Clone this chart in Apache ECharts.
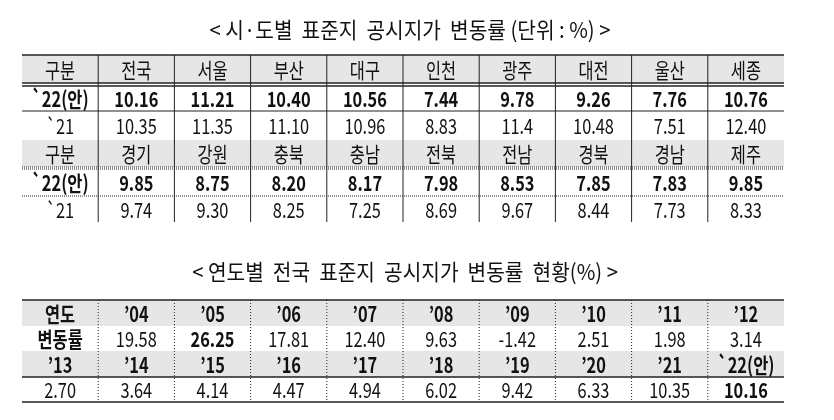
<!DOCTYPE html>
<html><head><meta charset="utf-8">
<script src="https://cdn.jsdelivr.net/npm/echarts@6/dist/echarts.min.js"></script>
<style>html,body{margin:0;background:#fff}#c{width:834px;height:420px}</style>
</head><body><div id="c"></div>
<script>
// 시·도별 표
const regions1 = ['전국','서울','부산','대구','인천','광주','대전','울산','세종'];
const v22a = ['10.16','11.21','10.40','10.56','7.44','9.78','9.26','7.76','10.76'];
const v21a = ['10.35','11.35','11.10','10.96','8.83','11.4','10.48','7.51','12.40'];
const regions2 = ['경기','강원','충북','충남','전북','전남','경북','경남','제주'];
const v22b = ['9.85','8.75','8.20','8.17','7.98','8.53','7.85','7.83','9.85'];
const v21b = ['9.74','9.30','8.25','7.25','8.69','9.67','8.44','7.73','8.33'];
// 연도별 표
const years1 = ['연도','\u201904','\u201905','\u201906','\u201907','\u201908','\u201909','\u201910','\u201911','\u201912'];
const rates1 = ['변동률','19.58','26.25','17.81','12.40','9.63','-1.42','2.51','1.98','3.14'];
const years2 = ['\u201913','\u201914','\u201915','\u201916','\u201917','\u201918','\u201919','\u201920','\u201921','`22(안)'];
const rates2 = ['2.70','3.64','4.14','4.47','4.94','6.02','9.42','6.33','10.35','10.16'];

const FONT = '"Noto Sans CJK KR", sans-serif';
const X0 = 22, X1 = 784, NC = 10, CW = (X1 - X0) / NC;
const g = [];
function txt(x, y, s, bold, size, sx) {
  g.push({type:'text', x: x, y: y, scaleX: sx || 0.78, style:{text:s, font:(bold?'bold ':'')+(size||21)+'px '+FONT, fill:'#111', align:'center', verticalAlign:'middle'}});
}
function rect(x, y, w, h, fill) { g.push({type:'rect', shape:{x:x,y:y,width:w,height:h}, style:{fill:fill}}); }
function line(x1, y1, x2, y2, w, dash) { g.push({type:'line', shape:{x1:x1,y1:y1,x2:x2,y2:y2}, style:{stroke:'#222', lineWidth:w||1, lineDash:dash||null}}); }
function row(cells, y0, y1, bold, boldMask) {
  cells.forEach((s, i) => txt(X0 + CW * (i + 0.5), (y0 + y1) / 2 + 1, s, boldMask ? boldMask[i] : bold));
}

// table 1
txt(410, 30, '< 시·도별  표준지  공시지가  변동률 (단위 : %) >', false, 22, 0.92);
const R1 = [55, 83, 111, 140, 167, 196, 222];
rect(X0, R1[0], X1 - X0, R1[1] - R1[0], '#e6e6e6');
rect(X0, R1[3], X1 - X0, R1[4] - R1[3], '#e6e6e6');
line(X0, R1[0], X1, R1[0], 1.5);
line(X0, R1[1], X1, R1[1], 1.5); line(X0, R1[1] + 3, X1, R1[1] + 3, 1.5);
line(X0, R1[2], X1, R1[2], 1);
line(X0, R1[4], X1, R1[4], 1, [1, 1]); line(X0, R1[4] + 2, X1, R1[4] + 2, 1, [1, 1]);
line(X0, R1[5], X1, R1[5], 1, [1, 1]);
for (let i = 1; i < NC; i++) line(X0 + CW * i, R1[0], X0 + CW * i, R1[6], 1);
row(['구분'].concat(regions1), R1[0], R1[1], false);
row(['`22(안)'].concat(v22a), R1[1] + 3, R1[2], true);
row(['`21'].concat(v21a), R1[2], R1[3], false);
row(['구분'].concat(regions2), R1[3], R1[4], false);
row(['`22(안)'].concat(v22b), R1[4] + 2, R1[5], true);
row(['`21'].concat(v21b), R1[5], R1[6], false);

// table 2
txt(405, 272, '< 연도별  전국  표준지  공시지가  변동률  현황(%) >', false, 22, 0.92);
const R2 = [300, 326, 351, 377, 402];
rect(X0, R2[0], X1 - X0, R2[1] - R2[0], '#e6e6e6');
rect(X0, R2[2], X1 - X0, R2[3] - R2[2], '#e6e6e6');
line(X0, R2[0], X1, R2[0], 1.5);
line(X0, R2[3], X1, R2[3], 1.5);
line(X0, R2[4], X1, R2[4], 1.5);
for (let i = 1; i < NC; i++) line(X0 + CW * i, R2[0], X0 + CW * i, R2[4], 1, [1, 2]);
row(years1, R2[0], R2[1], true);
row(rates1, R2[1], R2[2], false, rates1.map((s, i) => i === 0 || i === 2));
row(years2, R2[2], R2[3], true);
row(rates2, R2[3], R2[4], false, rates2.map((s, i) => i === 9));

const chart = echarts.init(document.getElementById('c'));
chart.setOption({ backgroundColor: '#fff', graphic: g });
</script></body></html>
